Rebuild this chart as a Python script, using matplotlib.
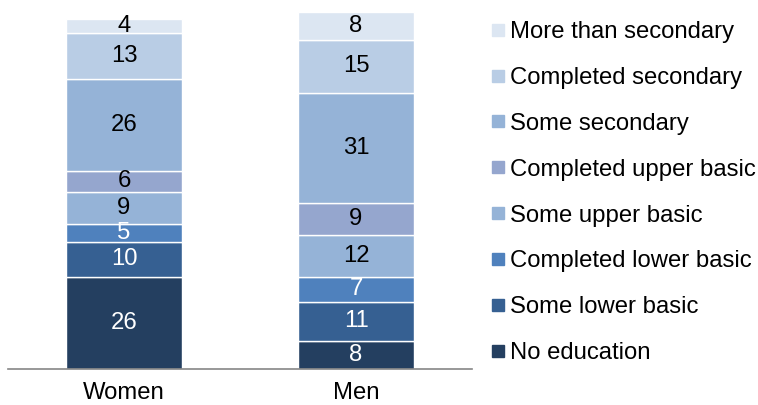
import matplotlib
matplotlib.use("Agg")
import matplotlib.pyplot as plt
from matplotlib.lines import Line2D

plt.rcParams["font.family"] = ["Liberation Sans", "DejaVu Sans"]

groups = ["Women", "Men"]
levels = [
    "No education",
    "Some lower basic",
    "Completed lower basic",
    "Some upper basic",
    "Completed upper basic",
    "Some secondary",
    "Completed secondary",
    "More than secondary",
]
women = [26, 10, 5, 9, 6, 26, 13, 4]
men = [8, 11, 7, 12, 9, 31, 15, 8]

colors = ["#243F60", "#366092", "#4F81BD", "#95B3D7",
          "#95A6CE", "#95B3D7", "#B9CDE5", "#DCE6F2"]
text_colors = ["white", "white", "white", "black",
               "black", "black", "black", "black"]

FS = 17.2

fig = plt.figure(figsize=(7.58, 4.05), dpi=100)
ax = fig.add_axes([8 / 758, 1 - 369 / 405, 464 / 758, 361 / 405])

series = list(zip(women, men))
bottoms = [0, 0]
x = range(len(groups))
for i, (lvl, vals) in enumerate(zip(levels, series)):
    ax.bar(x, vals, width=0.5, bottom=bottoms, color=colors[i],
           edgecolor="white", linewidth=1.0, label=lvl, zorder=2)
    for xi, v, b in zip(x, vals, bottoms):
        ax.text(xi, b + v / 2, str(v), ha="center", va="center",
                fontsize=FS, color=text_colors[i], zorder=3)
    bottoms = [b + v for b, v in zip(bottoms, vals)]

ax.set_xlim(-0.5, 1.5)
ax.set_ylim(0, 102)
ax.set_xticks(list(x))
ax.set_xticklabels(groups, fontsize=FS)
ax.tick_params(axis="x", length=0, pad=9.5)
ax.set_yticks([])
for s in ["top", "right", "left"]:
    ax.spines[s].set_visible(False)
ax.spines["bottom"].set_color("#868686")
ax.spines["bottom"].set_linewidth(1.2)

handles = [Line2D([], [], marker="s", linestyle="none", markersize=8,
                  markerfacecolor=c, markeredgecolor=c) for c in colors]
fig.legend(handles[::-1], levels[::-1], loc="upper left",
           bbox_to_anchor=(491 / 758, 1 - 21 / 405), frameon=False,
           fontsize=FS, handlelength=0.55, handletextpad=0.25,
           borderpad=0, borderaxespad=0, labelspacing=1.0)

fig.savefig("out.png", dpi=100)
